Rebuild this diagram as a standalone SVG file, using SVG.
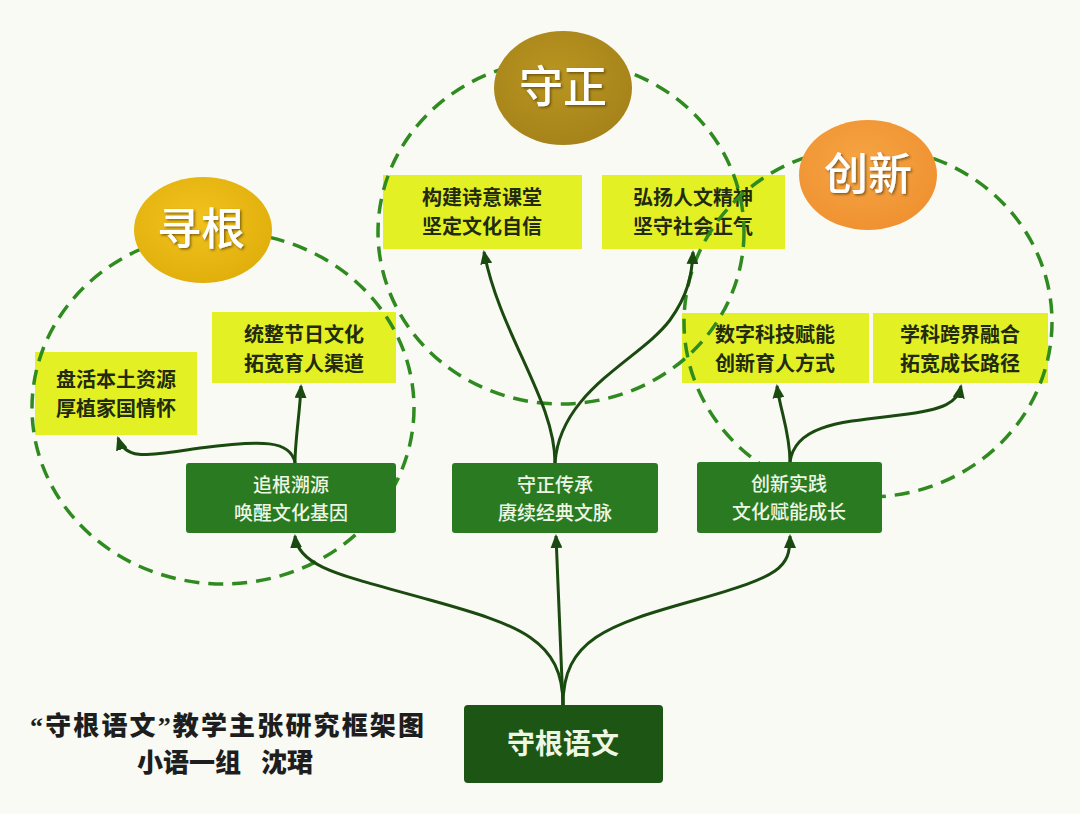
<svg xmlns="http://www.w3.org/2000/svg" width="1080" height="814" viewBox="0 0 1080 814">
<style>
.bg{fill:#f8faf3}
.lime{fill:#e3f124}
.dash{fill:none;stroke:#2f8a1f;stroke-width:3.5;stroke-dasharray:15 9}
.dark{fill:#2a7a22}
.conn{fill:none;stroke:#1b4a10;stroke-width:3}
.lt{font-family:"Noto Sans CJK SC",sans-serif;font-weight:700;font-size:20px;fill:#222a10;text-anchor:middle}
.dt{font-family:"Noto Sans CJK SC",sans-serif;font-weight:500;font-size:19px;fill:#eef6e4;text-anchor:middle}
.tt{font-family:"Noto Sans CJK SC",sans-serif;font-weight:500;font-size:44px;fill:#ffffff;text-anchor:middle}
.cap{font-family:"Liberation Serif","Noto Sans CJK SC",serif;font-weight:900;font-size:26px;fill:#1e1e1e}
</style>
<defs>
<marker id="arr" markerUnits="userSpaceOnUse" markerWidth="14" markerHeight="12" refX="12" refY="6" orient="auto">
<path d="M0,0 L14,6 L0,12 z" fill="#1b4a10"/>
</marker>
<filter id="ts" x="-20%" y="-20%" width="140%" height="140%">
<feDropShadow dx="1.5" dy="1.5" stdDeviation="1" flood-color="#3a2a00" flood-opacity="0.6"/>
</filter>
<radialGradient id="gGold" cx="45%" cy="40%" r="65%"><stop offset="0" stop-color="#f2c21e"/><stop offset="1" stop-color="#dfae0a"/></radialGradient>
<radialGradient id="gOlive" cx="45%" cy="40%" r="65%"><stop offset="0" stop-color="#b99520"/><stop offset="1" stop-color="#a5821a"/></radialGradient>
<radialGradient id="gOrange" cx="45%" cy="40%" r="65%"><stop offset="0" stop-color="#f6a544"/><stop offset="1" stop-color="#ef9030"/></radialGradient>
</defs>
<rect class="bg" x="0" y="0" width="1080" height="814"/>

<g id="lime-boxes">
<g id="n-panhuo"><rect class="lime" x="35" y="352" width="162" height="83"/><text class="lt" x="116" y="387">盘活本土资源</text><text class="lt" x="116" y="416">厚植家国情怀</text></g>
<g id="n-tongzheng"><rect class="lime" x="212" y="312" width="184" height="71"/><text class="lt" x="304" y="342">统整节日文化</text><text class="lt" x="304" y="371">拓宽育人渠道</text></g>
<g id="n-goujian"><rect class="lime" x="383" y="175" width="199" height="74"/><text class="lt" x="482" y="205">构建诗意课堂</text><text class="lt" x="482" y="234">坚定文化自信</text></g>
<g id="n-hongyang"><rect class="lime" x="602" y="175" width="183" height="74"/><text class="lt" x="693" y="205">弘扬人文精神</text><text class="lt" x="693" y="234">坚守社会正气</text></g>
<g id="n-shuzi"><rect class="lime" x="682" y="313" width="187" height="70"/><text class="lt" x="775" y="342">数字科技赋能</text><text class="lt" x="775" y="371">创新育人方式</text></g>
<g id="n-xueke"><rect class="lime" x="873" y="313" width="175" height="70"/><text class="lt" x="960" y="342">学科跨界融合</text><text class="lt" x="960" y="371">拓宽成长路径</text></g>
</g>

<g id="groups">
<ellipse class="dash" cx="223" cy="408" rx="191" ry="176"/>
<ellipse class="dash" cx="561" cy="232" rx="183" ry="172"/>
<ellipse class="dash" cx="868" cy="322" rx="184" ry="175"/>
</g>

<g id="n-xungen"><ellipse cx="203" cy="230" rx="69" ry="53" fill="url(#gGold)"/><text class="tt" x="201" y="245" filter="url(#ts)">寻根</text></g>
<g id="n-shouzheng"><ellipse cx="563" cy="88" rx="69" ry="57" fill="url(#gOlive)"/><text class="tt" x="563" y="103" filter="url(#ts)">守正</text></g>
<g id="n-chuangxin"><ellipse cx="868" cy="175" rx="69" ry="55" fill="url(#gOrange)"/><text class="tt" x="868" y="190" filter="url(#ts)">创新</text></g>

<g id="connectors">
<path class="conn" marker-end="url(#arr)" d="M563,705 C563,640 520,625 430,600 C345,576 298,568 295,536"/>
<path class="conn" marker-end="url(#arr)" d="M563,705 L556,536"/>
<path class="conn" marker-end="url(#arr)" d="M563,705 C563,640 606,625 696,600 C781,576 790,568 790,536"/>
<path class="conn" marker-end="url(#arr)" d="M295,463 C295,440 300,412 301,386"/>
<path class="conn" marker-end="url(#arr)" d="M295,463 C291,440 262,440 200,448 C150,455 126,462 118,438"/>
<path class="conn" marker-end="url(#arr)" d="M555,463 C555,400 500,335 484,252"/>
<path class="conn" marker-end="url(#arr)" d="M555,463 C560,390 640,360 670,320 C688,295 692,275 693,252"/>
<path class="conn" marker-end="url(#arr)" d="M790,462 C790,432 780,410 777,386"/>
<path class="conn" marker-end="url(#arr)" d="M790,462 C795,425 840,422 900,415 C945,410 958,402 961,386"/>
</g>

<g id="dark-boxes">
<g id="n-zhuigen"><rect class="dark" x="186" y="463" width="210" height="70" rx="3"/><text class="dt" x="291" y="492">追根溯源</text><text class="dt" x="291" y="520">唤醒文化基因</text></g>
<g id="n-chuancheng"><rect class="dark" x="452" y="463" width="206" height="70" rx="3"/><text class="dt" x="555" y="492">守正传承</text><text class="dt" x="555" y="520">赓续经典文脉</text></g>
<g id="n-shijian"><rect class="dark" x="697" y="462" width="185" height="71" rx="3"/><text class="dt" x="789" y="491">创新实践</text><text class="dt" x="789" y="519">文化赋能成长</text></g>
<g id="n-root"><rect x="464" y="705" width="199" height="78" rx="4" fill="#1d5514"/><text x="563" y="754" font-family="Noto Sans CJK SC, sans-serif" font-weight="700" font-size="28" fill="#eef6e4" text-anchor="middle">守根语文</text></g>
</g>

<g id="caption">
<text class="cap" x="30" y="735" textLength="394" lengthAdjust="spacing">“守根语文”教学主张研究框架图</text>
<text class="cap" y="772"><tspan x="137">小语一组</tspan><tspan x="261">沈珺</tspan></text>
</g>
</svg>
